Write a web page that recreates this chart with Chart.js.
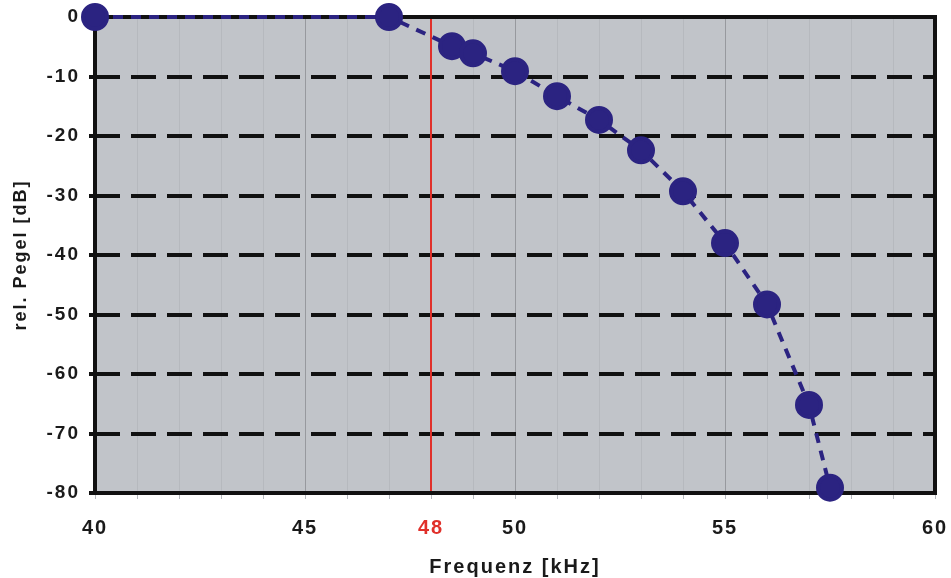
<!DOCTYPE html>
<html>
<head>
<meta charset="utf-8">
<script src="https://cdn.jsdelivr.net/npm/chart.js@4"></script>
<style>
  html, body { margin: 0; padding: 0; background: #fff; }
  #wrap { width: 951px; height: 578px; }
</style>
</head>
<body>
<div id="wrap"><canvas id="pegelChart" width="951" height="578"></canvas></div>
<script>
// Messwerte: Frequenz (kHz) und relativer Pegel (dB)
var frequenz = [40, 47, 48.5, 49, 50, 51, 52, 53, 54, 55, 56, 57, 57.5];
var pegel = [0, 0, -4.9, -6.1, -9.1, -13.3, -17.3, -22.4, -29.3, -38, -48.3, -65.2, -79.1];
var xTickLabels = [40, 45, 48, 50, 55, 60];
var markerFreq = 48;

var navy = '#2b2381';
var red = '#e0302a';

var points = frequenz.map(function(f, i) { return { x: f, y: pegel[i] }; });

// grauer Hintergrund, Rahmen und rote Markierungslinie
var plotDeco = {
    id: 'plotDeco',
    beforeDraw: function(chart) {
        var a = chart.chartArea, c = chart.ctx;
        c.letterSpacing = '2px'; // Schrift im Original etwas breiter
        c.save();
        c.fillStyle = '#c1c4c9';
        c.fillRect(a.left, a.top, a.right - a.left, a.bottom - a.top);
        c.restore();
    },
    beforeDatasetsDraw: function(chart) {
        var a = chart.chartArea, c = chart.ctx;
        var x = chart.scales.x.getPixelForValue(markerFreq);
        c.save();
        c.strokeStyle = red;
        c.lineWidth = 2;
        c.beginPath();
        c.moveTo(x, a.top);
        c.lineTo(x, a.bottom);
        c.stroke();
        c.strokeStyle = '#111';
        c.lineWidth = 4;
        c.strokeRect(a.left, a.top, a.right - a.left, a.bottom - a.top);
        c.restore();
    },
    afterDraw: function(chart) {
        chart.ctx.letterSpacing = '0px';
    }
};

var ctx = document.getElementById('pegelChart').getContext('2d');
var chart = new Chart(ctx, {
    type: 'scatter',
    data: {
        datasets: [{
            data: points,
            showLine: true,
            borderColor: navy,
            borderWidth: 4,
            borderDash: [10, 8],
            backgroundColor: navy,
            pointBackgroundColor: navy,
            pointBorderColor: navy,
            pointRadius: 12,
            clip: false
        }]
    },
    options: {
        responsive: false,
        animation: false,
        layout: { padding: { left: 0, top: 17, right: 13, bottom: 0 } },
        plugins: { legend: { display: false }, tooltip: { enabled: false } },
        scales: {
            x: {
                type: 'linear',
                min: 40,
                max: 60,
                afterFit: function(s) { s.height = 85; s.paddingLeft = 0; s.paddingRight = 0; },
                ticks: {
                    stepSize: 1,
                    autoSkip: false,
                    maxRotation: 0,
                    padding: 17,
                    font: { family: 'Liberation Sans, Arial', size: 20, weight: 'bold' },
                    color: function(c) { return c.tick && c.tick.value === markerFreq ? red : '#1a1a1a'; },
                    callback: function(v) { return xTickLabels.indexOf(v) >= 0 ? String(v) : ''; }
                },
                grid: {
                    color: function(c) {
                        if (!c.tick) return 'rgba(0,0,0,0)';
                        var v = c.tick.value;
                        if (v === 40 || v === 60 || v === markerFreq) return 'rgba(0,0,0,0)';
                        return v % 5 === 0 ? '#97999e' : '#b6b9be';
                    },
                    lineWidth: 1,
                    tickLength: 6,
                    tickColor: '#b6b9be'
                },
                border: { display: false },
                title: {
                    display: true,
                    text: 'Frequenz [kHz]',
                    color: '#1a1a1a',
                    font: { family: 'Liberation Sans, Arial', size: 20, weight: 'bold' },
                    padding: { top: 4, bottom: -1 }
                }
            },
            y: {
                min: -80,
                max: 0,
                afterFit: function(s) { s.width = 95; s.paddingTop = 0; s.paddingBottom = 0; },
                ticks: {
                    stepSize: 10,
                    padding: 9,
                    font: { family: 'Liberation Sans, Arial', size: 19, weight: 'bold' },
                    color: '#1a1a1a'
                },
                grid: {
                    color: function(c) {
                        if (!c.tick) return 'rgba(0,0,0,0)';
                        var v = c.tick.value;
                        return (v === 0 || v === -80) ? 'rgba(0,0,0,0)' : '#111';
                    },
                    lineWidth: 4,
                    tickLength: 6,
                    tickColor: '#111',
                    tickBorderDash: []
                },
                border: { display: false, dash: [25, 11] },
                title: {
                    display: true,
                    text: 'rel. Pegel [dB]',
                    color: '#1a1a1a',
                    font: { family: 'Liberation Sans, Arial', size: 18, weight: 'bold' },
                    padding: { top: 10, bottom: 0 }
                }
            }
        }
    },
    plugins: [plotDeco]
});
</script>
</body>
</html>
